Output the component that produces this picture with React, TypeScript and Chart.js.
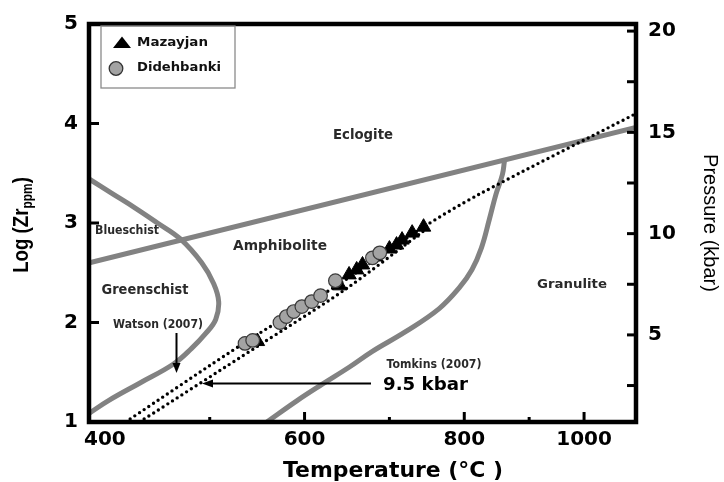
import React, { useEffect, useRef } from 'react';
import { Chart, registerables, LinearScale } from 'chart.js';

// ---------------- data (temperature °C, log Zr ppm) ----------------
const MAZAYJAN_T = [549, 640, 651, 660, 667, 683, 700, 709, 716, 729, 744];
const MAZAYJAN_LOGZR = [1.81, 2.37, 2.48, 2.53, 2.58, 2.66, 2.74, 2.78, 2.83, 2.9, 2.96];

const DIDEHBANKI_T = [536, 544, 573, 580, 588, 597, 608, 618, 635, 679, 688];
const DIDEHBANKI_LOGZR = [1.79, 1.82, 2.0, 2.06, 2.11, 2.16, 2.21, 2.27, 2.42, 2.65, 2.7];

const WATSON_T = [419, 536, 640, 744, 822, 1118];
const WATSON_LOGZR = [1.0, 1.8, 2.39, 2.96, 3.29, 4.1];

const TOMKINS_T = [432, 549, 646, 744];
const TOMKINS_LOGZR = [1.0, 1.76, 2.33, 2.92];

const ECLOGITE_T = [386, 1118];
const ECLOGITE_LOGZR = [2.6, 3.96];

const GREENSCHIST_T = [386, 406, 428, 449, 471, 492, 504, 509, 506, 496, 482, 464, 432, 404, 386];
const GREENSCHIST_LOGZR = [3.44, 3.3, 3.15, 3.0, 2.84, 2.6, 2.39, 2.21, 2.03, 1.89, 1.74, 1.58, 1.39, 1.22, 1.09];

const GRANULITE_T = [559, 591, 620, 651, 679, 721, 765, 793, 811, 825, 837, 847, 857, 860];
const GRANULITE_LOGZR = [1.0, 1.21, 1.38, 1.55, 1.71, 1.91, 2.14, 2.35, 2.53, 2.75, 3.04, 3.29, 3.49, 3.62];

const X_TICKS = [400, 500, 600, 700, 800, 900, 1000];
const X_TICK_LABELS = ['400', '', '600', '', '800', '', '1000'];
const Y_TICKS = [1, 2, 3, 4, 5];
const P_TICKS = [2.5, 5, 7.5, 10, 12.5, 15, 17.5, 20];

const X_MIN = 385.6;
const X_MAX = 1118;
const P_MIN = 0.7;
const P_MAX = 20.35;

// ---------------- non-linear temperature scale ----------------
function warp(t: number) {
  const d = t - 400;
  return 1.1 * d - 0.0005 * d * d;
}
function unwarp(s: number) {
  return 400 + 1000 * (1.1 - Math.sqrt(Math.max(0, 1.21 - 0.002 * s)));
}

class TemperatureScale extends LinearScale {
  static id = 'temperature';
  getPixelForValue(value: number) {
    const a = warp((this as any).min);
    const b = warp((this as any).max);
    return (this as any).getPixelForDecimal((warp(value) - a) / (b - a));
  }
  getValueForPixel(pixel: number) {
    const a = warp((this as any).min);
    const b = warp((this as any).max);
    return unwarp(a + (this as any).getDecimalForPixel(pixel) * (b - a));
  }
}

Chart.register(...registerables);
Chart.register(TemperatureScale as any);

const pts = (xs: number[], ys: number[]) => xs.map((x, i) => ({ x, y: ys[i] }));

const FONT_BOLD = '"DejaVu Sans", sans-serif';

const REGION_LABELS = [
  { text: 'Eclogite', x: 363, y: 135, size: 14, width: 60 },
  { text: 'Blueschist', x: 127, y: 231, size: 12, width: 64 },
  { text: 'Amphibolite', x: 280, y: 246, size: 14, width: 94 },
  { text: 'Greenschist', x: 145, y: 290, size: 14, width: 87 },
  { text: 'Granulite', x: 572, y: 285, size: 13, width: 70 },
  { text: 'Watson (2007)', x: 158, y: 325, size: 11.5, width: 90 },
  { text: 'Tomkins (2007)', x: 434, y: 365, size: 11.5, width: 95 },
  { text: '9.5 kbar', x: 425.5, y: 385, size: 18, width: 85, color: '#000' },
];

function drawFitted(ctx: CanvasRenderingContext2D, text: string, cx: number, cy: number, font: string, width: number, color: string) {
  ctx.save();
  ctx.font = font;
  const w = ctx.measureText(text).width;
  ctx.translate(cx, cy);
  ctx.scale(width / w, 1);
  ctx.textAlign = 'center';
  ctx.textBaseline = 'middle';
  ctx.fillStyle = color;
  ctx.fillText(text, 0, 0);
  ctx.restore();
}

function seg(ctx: CanvasRenderingContext2D, x1: number, y1: number, x2: number, y2: number) {
  ctx.beginPath();
  ctx.moveTo(x1, y1);
  ctx.lineTo(x2, y2);
  ctx.stroke();
}

const overlay = {
  id: 'overlay',
  afterDraw(chart: any) {
    const { ctx, chartArea: a, scales } = chart;
    const xs = scales.x, ys = scales.y, ps = scales.p;
    ctx.save();
    ctx.strokeStyle = '#000';
    ctx.lineCap = 'butt';
    ctx.lineWidth = 3;
    Y_TICKS.forEach((v) => {
      const py = ys.getPixelForValue(v);
      seg(ctx, a.left, py, a.left + 10, py);
    });
    P_TICKS.forEach((v) => {
      const py = ps.getPixelForValue(v);
      seg(ctx, a.right - 9, py, a.right, py);
    });
    X_TICKS.forEach((t, i) => {
      if (i === 0) return;
      const px = xs.getPixelForValue(t);
      const len = X_TICK_LABELS[i] ? 10 : 5;
      seg(ctx, px, a.bottom, px, a.bottom - len);
    });
    // frame
    ctx.lineWidth = 4.5;
    ctx.strokeRect(a.left, a.top, a.right - a.left, a.bottom - a.top);

    // legend
    ctx.lineWidth = 1.3;
    ctx.strokeStyle = '#8a8a8a';
    ctx.strokeRect(101, 26, 134, 62);
    ctx.fillStyle = '#000';
    ctx.beginPath();
    ctx.moveTo(113, 48);
    ctx.lineTo(131, 48);
    ctx.lineTo(122, 36.5);
    ctx.closePath();
    ctx.fill();
    ctx.beginPath();
    ctx.arc(116, 68.5, 6.8, 0, Math.PI * 2);
    ctx.fillStyle = '#a3a3a3';
    ctx.fill();
    ctx.strokeStyle = '#333';
    ctx.lineWidth = 1.3;
    ctx.stroke();
    drawFitted(ctx, 'Mazayjan', 172.5, 43, `bold 13px ${FONT_BOLD}`, 71, '#111');
    drawFitted(ctx, 'Didehbanki', 179, 68, `bold 13px ${FONT_BOLD}`, 84, '#111');

    // region labels
    REGION_LABELS.forEach((l) => {
      drawFitted(ctx, l.text, l.x, l.y, `bold ${l.size}px ${FONT_BOLD}`, l.width, (l as any).color || '#2a2a2a');
    });

    // arrows
    ctx.strokeStyle = '#000';
    ctx.fillStyle = '#000';
    ctx.lineWidth = 2;
    seg(ctx, 176.5, 333, 176.5, 364);
    ctx.beginPath();
    ctx.moveTo(172.5, 363);
    ctx.lineTo(180.5, 363);
    ctx.lineTo(176.5, 373);
    ctx.closePath();
    ctx.fill();
    seg(ctx, 371, 383.5, 211, 383.5);
    ctx.beginPath();
    ctx.moveTo(213, 379.5);
    ctx.lineTo(213, 387.5);
    ctx.lineTo(202, 383.5);
    ctx.closePath();
    ctx.fill();

    // x title
    drawFitted(ctx, 'Temperature (°C )', 393, 472, `bold 21px ${FONT_BOLD}`, 220, '#000');

    // y title with subscript
    ctx.save();
    ctx.translate(28, 225);
    ctx.rotate(-Math.PI / 2);
    ctx.scale(0.85, 1);
    const big = 'bold 22px "Liberation Sans", sans-serif';
    const small = 'bold 14px "Liberation Sans", sans-serif';
    ctx.font = big;
    const w1 = ctx.measureText('Log (Zr').width;
    const w3 = ctx.measureText(')').width;
    ctx.font = small;
    const w2 = ctx.measureText('ppm').width;
    const total = w1 + w2 + w3;
    let x0 = -total / 2;
    ctx.fillStyle = '#000';
    ctx.textBaseline = 'alphabetic';
    ctx.textAlign = 'left';
    ctx.font = big;
    ctx.fillText('Log (Zr', x0, 0);
    x0 += w1;
    ctx.font = small;
    ctx.fillText('ppm', x0, 4);
    x0 += w2;
    ctx.font = big;
    ctx.fillText(')', x0, 0);
    ctx.restore();

    ctx.restore();
  },
};

export default function App() {
  const ref = useRef<HTMLCanvasElement | null>(null);
  useEffect(() => {
    if (!ref.current) return;
    const grayLine = (data: any[], tension: number) => ({
      type: 'line' as const,
      data,
      showLine: true,
      borderColor: '#828282',
      borderWidth: 5,
      pointRadius: 0,
      tension,
      fill: false,
      order: 4,
    });
    const dottedLine = (data: any[]) => ({
      type: 'line' as const,
      data,
      showLine: true,
      borderColor: '#000',
      borderWidth: 3.4,
      borderDash: [0, 5.6],
      borderCapStyle: 'round' as const,
      pointRadius: 0,
      tension: 0.3,
      fill: false,
      order: 3,
    });
    const chart = new Chart(ref.current, {
      type: 'line',
      data: {
        datasets: [
          {
            label: 'Mazayjan',
            data: pts(MAZAYJAN_T, MAZAYJAN_LOGZR),
            showLine: false,
            pointStyle: 'triangle',
            pointRadius: 8.3,
            backgroundColor: '#000',
            borderColor: '#000',
            borderWidth: 1,
            order: 1,
          } as any,
          {
            label: 'Didehbanki',
            data: pts(DIDEHBANKI_T, DIDEHBANKI_LOGZR),
            showLine: false,
            pointStyle: 'circle',
            pointRadius: 6.8,
            backgroundColor: '#a3a3a3',
            borderColor: '#3a3a3a',
            borderWidth: 1.2,
            order: 0,
          } as any,
          dottedLine(pts(WATSON_T, WATSON_LOGZR)) as any,
          dottedLine(pts(TOMKINS_T, TOMKINS_LOGZR)) as any,
          grayLine(pts(ECLOGITE_T, ECLOGITE_LOGZR), 0) as any,
          grayLine(pts(GREENSCHIST_T, GREENSCHIST_LOGZR), 0.4) as any,
          grayLine(pts(GRANULITE_T, GRANULITE_LOGZR), 0.4) as any,
        ],
      },
      options: {
        responsive: false,
        animation: false,
        events: [],
        layout: { padding: { top: 17, left: 0, right: 0, bottom: 0 } },
        plugins: { legend: { display: false }, tooltip: { enabled: false } },
        scales: {
          x: {
            type: 'temperature' as any,
            position: 'bottom',
            min: X_MIN,
            max: X_MAX,
            afterBuildTicks: (s: any) => {
              s.ticks = X_TICKS.map((v) => ({ value: v }));
            },
            afterFit: (s: any) => {
              s.height = 60;
            },
            grid: { display: false, drawTicks: false },
            border: { display: false },
            ticks: {
              autoSkip: false,
              maxRotation: 0,
              minRotation: 0,
              padding: 6,
              color: '#000',
              font: { family: FONT_BOLD, weight: 'bold', size: 20 },
              callback: (_v: any, i: number) => X_TICK_LABELS[i],
            },
          } as any,
          y: {
            type: 'linear',
            position: 'left',
            min: 1,
            max: 5,
            afterBuildTicks: (s: any) => {
              s.ticks = Y_TICKS.map((v) => ({ value: v }));
            },
            afterFit: (s: any) => {
              s.width = 89;
            },
            grid: { display: false, drawTicks: false },
            border: { display: false },
            ticks: {
              padding: 11,
              color: '#000',
              font: { family: FONT_BOLD, weight: 'bold', size: 20 },
              callback: (v: any) => String(v),
            },
          },
          p: {
            type: 'linear',
            position: 'right',
            min: P_MIN,
            max: P_MAX,
            afterBuildTicks: (s: any) => {
              s.ticks = P_TICKS.map((v) => ({ value: v }));
            },
            afterFit: (s: any) => {
              s.width = 88;
            },
            grid: { display: false, drawTicks: false },
            border: { display: false },
            ticks: {
              padding: 12,
              color: '#000',
              font: { family: FONT_BOLD, weight: 'bold', size: 20 },
              callback: (v: any) => (Number(v) % 5 === 0 ? String(v) : ''),
            },
            title: {
              display: true,
              text: 'Pressure (kbar)',
              color: '#000',
              font: { family: '"Liberation Sans", sans-serif', size: 20 },
              padding: { top: 2, bottom: 0 },
            },
          },
        },
      },
      plugins: [overlay],
    } as any);
    return () => chart.destroy();
  }, []);
  return (
    <div style={{ position: 'absolute', left: 0, top: 0, width: 724, height: 482, background: '#fff' }}>
      <canvas ref={ref} width={724} height={482} style={{ display: 'block', width: 724, height: 482 }} />
    </div>
  );
}
